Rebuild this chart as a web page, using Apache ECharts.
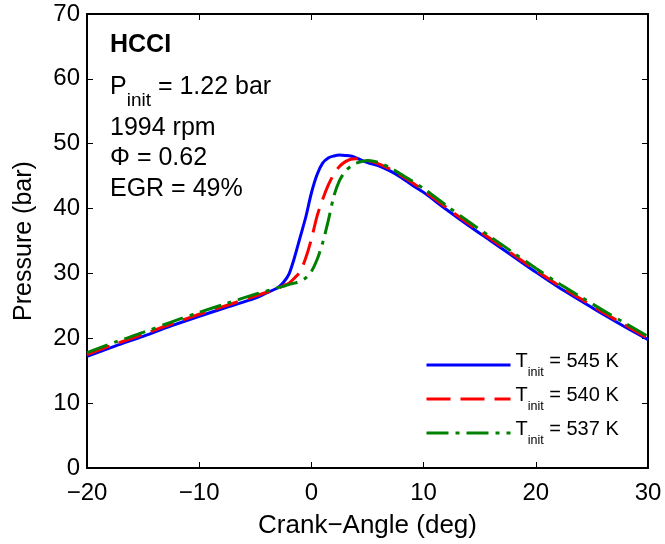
<!DOCTYPE html>
<html>
<head>
<meta charset="utf-8">
<script src="https://cdn.jsdelivr.net/npm/echarts@6/dist/echarts.min.js"></script>
<style>html,body{margin:0;padding:0;background:#fff}#c{width:665px;height:544px}</style>
</head>
<body>
<div id="c"></div>
<script>
// ---- data ----
const angle = [-20,-17.5,-15,-12.5,-10,-7.5,-5,-4,-3,-2.5,-2,-1.5,-1,-0.5,0,0.5,1,1.5,2,2.5,3,3.5,4,5,6,7,8,9,10,12,14,16,18,20,22,24,26,28,30];
const pBlue = [17.2,18.8,20.3,21.9,23.4,24.8,26.2,27.0,27.8,28.6,29.9,32.5,35.6,38.7,42.4,45.2,47.0,47.8,48.1,48.25,48.2,48.1,47.8,47.1,46.6,45.8,44.8,43.6,42.5,39.9,37.4,35.0,32.6,30.2,27.9,25.8,23.7,21.7,19.8];
const pRed = [17.5,19.1,20.6,22.2,23.7,25.1,26.5,27.1,27.7,28.1,28.5,29.3,30.3,32.4,35.3,38.8,41.4,43.6,45.3,46.5,47.2,47.6,47.7,47.4,46.9,46.1,45.1,44.0,42.8,40.2,37.7,35.3,32.9,30.5,28.2,26.1,24.0,22.0,20.0];
const pGreen = [17.8,19.4,20.9,22.5,24.0,25.4,26.8,27.3,27.8,28.0,28.3,28.5,28.8,29.3,30.3,32.1,34.7,38.1,41.9,44.3,45.7,46.5,47.0,47.4,47.1,46.3,45.3,44.2,43.1,40.5,38.0,35.6,33.2,30.8,28.5,26.4,24.3,22.3,20.3];
const tInit = [545, 540, 537];
const xTicks = [-20, -10, 0, 10, 20, 30];
const yTicks = [0, 10, 20, 30, 40, 50, 60, 70];
const notes = ['HCCI', '1.22 bar', '1994 rpm', '\u03A6 = 0.62', 'EGR = 49%'];

const FONT = '"Liberation Sans", Arial, Helvetica, sans-serif';
const colors = ['#0000ff', '#ff0000', '#008000'];
const dashes = ['solid', [24, 10], [22, 7, 4, 7]];
const pressures = [pBlue, pRed, pGreen];

const chart = echarts.init(document.getElementById('c'), null, {renderer: 'canvas'});

const series = pressures.map((p, i) => ({
  name: 'Tinit = ' + tInit[i] + ' K',
  type: 'line',
  xAxisIndex: 0, yAxisIndex: 0,
  data: angle.map((a, j) => [a, p[j]]),
  symbol: 'none',
  smooth: 0.3,
  lineStyle: {color: colors[i], width: 3, type: dashes[i]},
  itemStyle: {color: colors[i]},
  z: 3 + i
}));

const minus = v => (v < 0 ? '\u2212' + Math.abs(v) : String(v));
const axisCommon = {
  axisLine: {show: true, onZero: false, lineStyle: {color: '#000', width: 2}},
  axisTick: {show: true, inside: true, length: 6, lineStyle: {color: '#000', width: 1}},
  splitLine: {show: false}
};

chart.setOption({
  animation: false,
  backgroundColor: '#fff',
  grid: {left: 87, right: 17, top: 14, bottom: 76, containLabel: false},
  xAxis: [
    Object.assign({
      type: 'value', position: 'bottom', min: xTicks[0], max: xTicks[xTicks.length - 1], interval: 10,
      name: 'Crank\u2212Angle (deg)', nameLocation: 'middle', nameGap: 45,
      nameTextStyle: {fontFamily: FONT, fontSize: 26, color: '#000'},
      axisLabel: {fontFamily: FONT, fontSize: 24, color: '#000', margin: 13, formatter: minus}
    }, axisCommon),
    Object.assign({
      type: 'value', position: 'top', min: xTicks[0], max: xTicks[xTicks.length - 1], interval: 10,
      axisLabel: {show: false}
    }, axisCommon)
  ],
  yAxis: [
    Object.assign({
      type: 'value', position: 'left', min: yTicks[0], max: yTicks[yTicks.length - 1], interval: 10,
      name: 'Pressure (bar)', nameLocation: 'middle', nameGap: 50, nameRotate: 90,
      nameTextStyle: {fontFamily: FONT, fontSize: 25, color: '#000'},
      axisLabel: {fontFamily: FONT, fontSize: 24, color: '#000', margin: 7}
    }, axisCommon),
    Object.assign({
      type: 'value', position: 'right', min: yTicks[0], max: yTicks[yTicks.length - 1], interval: 10,
      axisLabel: {show: false}
    }, axisCommon)
  ],
  legend: {
    orient: 'vertical', left: 425, top: 351, padding: 0,
    itemWidth: 84, itemHeight: 14, itemGap: 6,
    data: series.map(s => s.name),
    itemStyle: {opacity: 0},
    lineStyle: {width: 3},
    formatter: name => '{m|T}{s|init}{m|' + name.replace('Tinit', '') + '}',
    textStyle: {
      fontFamily: FONT, fontSize: 20, color: '#000',
      rich: {
        m: {fontFamily: FONT, fontSize: 20, color: '#000', padding: [0, 0, 8, 0]},
        s: {fontFamily: FONT, fontSize: 12.5, color: '#000', padding: [15, 0, 0, 0]}
      }
    }
  },
  graphic: [
    {type: 'text', left: 110, top: 33, style: {text: notes[0], font: 'bold 25px ' + FONT, fill: '#000'}},
    {type: 'text', x: 110, y: 92, style: {
      text: '{m|P}{s|init}{m| = ' + notes[1] + '}',
      verticalAlign: 'middle', fill: '#000',
      rich: {
        m: {fontFamily: FONT, fontSize: 25, color: '#000', padding: [0, 0, 10, 0]},
        s: {fontFamily: FONT, fontSize: 19, color: '#000', padding: [18, 0, 0, 0]}
      }
    }},
    {type: 'text', x: 110, y: 128, style: {text: notes[2], font: '25px ' + FONT, fill: '#000', verticalAlign: 'middle'}},
    {type: 'text', x: 110, y: 158, style: {text: notes[3], font: '25px ' + FONT, fill: '#000', verticalAlign: 'middle'}},
    {type: 'text', x: 110, y: 189, style: {text: notes[4], font: '25px ' + FONT, fill: '#000', verticalAlign: 'middle'}}
  ],
  series: series
});
</script>
</body>
</html>
